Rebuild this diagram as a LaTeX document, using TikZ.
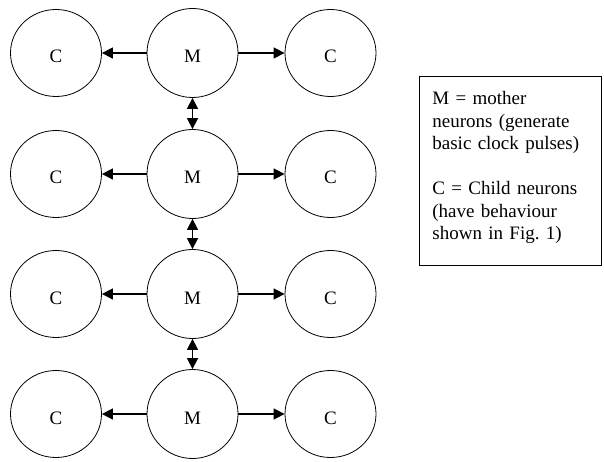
\documentclass[tikz,border=0pt]{standalone}
\usepackage{fontspec}
\setmainfont{Liberation Serif}
\usetikzlibrary{shapes.geometric,arrows.meta}
\tikzset{
  neuron/.style={draw,ellipse,line width=0.8pt,inner sep=0pt,
    text height=20pt,text depth=0pt,font=\fontsize{19}{22.5}\selectfont},
  mother/.style={neuron,minimum width=91pt,minimum height=89pt},
  child/.style={neuron,minimum width=91pt,minimum height=87pt},
  keybox/.style={draw,line width=1pt,minimum width=182pt,minimum height=188pt,inner sep=0pt},
  keytext/.style={inner sep=0pt,text width=165pt,align=left,font=\fontsize{19}{22.5}\selectfont},
}
\begin{document}
\begin{tikzpicture}[x=1pt,y=-1pt]
      \useasboundingbox (0,0) rectangle (604,462);
      \draw
        (56,53) node[child] (c1l){C}
        (192.5,53) node[mother] (m1){M}
        (330.5,53) node[child] (c1r){C}
        (56,174) node[child] (c2l){C}
        (192.5,174) node[mother] (m2){M}
        (330.5,174) node[child] (c2r){C}
        (56,294) node[child] (c3l){C}
        (192.5,294) node[mother] (m3){M}
        (330.5,294) node[child] (c3r){C}
        (56,414) node[child] (c4l){C}
        (192.5,414) node[mother] (m4){M}
        (330.5,414) node[child] (c4r){C};
      \node[keybox] (key) at (510,171) {};
      \node[keytext,anchor=north west] (keytxt) at ([xshift=13.7pt,yshift=-15pt]key.north west)
        {M = mother\\neurons (generate\\basic clock pulses)\\[22.5pt]
         C = Child neurons\\(have behaviour\\shown in Fig.\ 1)};
      \begin{scope}[line width=1.5pt,-{Triangle[length=11pt,width=11pt]}]
        \draw (m1) to (c1l);
        \draw (m1) to (c1r);
        \draw (m2) to (c2l);
        \draw (m2) to (c2r);
        \draw (m3) to (c3l);
        \draw (m3) to (c3r);
        \draw (m4) to (c4l);
        \draw (m4) to (c4r);
      \end{scope}
      \begin{scope}[line width=1.5pt,{Triangle[length=11pt,width=11pt]}-{Triangle[length=11pt,width=11pt]}]
        \draw (m1) to (m2);
        \draw (m2) to (m3);
        \draw (m3) to (m4);
      \end{scope}
    \end{tikzpicture}
\end{document}
